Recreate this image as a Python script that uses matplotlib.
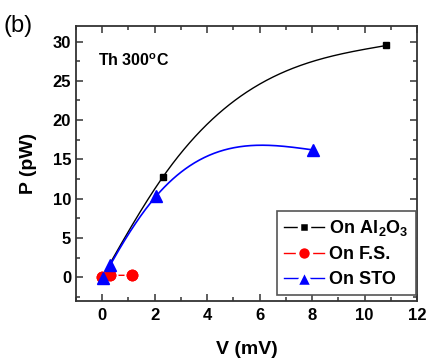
import numpy as np
import matplotlib
matplotlib.use("Agg")
import matplotlib.pyplot as plt
from matplotlib.ticker import MultipleLocator

# Data
al_v = [0.0, 2.3, 10.83]
al_p = [0.0, 12.7, 29.5]
fs_v = [0.0, 0.3, 1.15]
fs_p = [0.0, 0.25, 0.25]
sto_v = [0.04, 0.3, 2.05, 8.05]
sto_p = [-0.1, 1.5, 10.3, 16.2]

def natural_spline(x, y, n=300):
    x = np.asarray(x, float); y = np.asarray(y, float)
    k = len(x)
    h = np.diff(x)
    A = np.zeros((k, k)); r = np.zeros(k)
    A[0, 0] = 1; A[-1, -1] = 1
    for i in range(1, k - 1):
        A[i, i - 1] = h[i - 1]; A[i, i] = 2 * (h[i - 1] + h[i]); A[i, i + 1] = h[i]
        r[i] = 6 * ((y[i + 1] - y[i]) / h[i] - (y[i] - y[i - 1]) / h[i - 1])
    M = np.linalg.solve(A, r)
    xs = np.linspace(x[0], x[-1], n)
    idx = np.clip(np.searchsorted(x, xs) - 1, 0, k - 2)
    x0 = x[idx]; x1 = x[idx + 1]; hh = x1 - x0
    ys = (M[idx] * (x1 - xs) ** 3 / (6 * hh) + M[idx + 1] * (xs - x0) ** 3 / (6 * hh)
          + (y[idx] / hh - M[idx] * hh / 6) * (x1 - xs)
          + (y[idx + 1] / hh - M[idx + 1] * hh / 6) * (xs - x0))
    return xs, ys

plt.rcParams['font.family'] = ['Liberation Sans', 'DejaVu Sans']
plt.rcParams['mathtext.fontset'] = 'custom'
plt.rcParams['mathtext.rm'] = 'Liberation Sans'
plt.rcParams['mathtext.bf'] = 'Liberation Sans:bold'
fig = plt.figure(figsize=(4.29, 3.59), dpi=100)
ax = fig.add_axes([0.177, 0.162, 0.795, 0.766])

xs, ys = natural_spline(al_v, al_p)
ax.plot(xs, ys, color='black', lw=1)
xs, ys = natural_spline(sto_v, sto_p)
ax.plot(xs, ys, color='blue', lw=1.2)
ax.plot(fs_v, fs_p, color='red', lw=1)

ax.plot(al_v, al_p, 's', color='black', ms=4.5)
ax.plot(fs_v, fs_p, 'o', color='red', ms=10, mec='white', mew=1.5)
ax.plot(fs_v, fs_p, 'o', color='red', ms=8.5, mew=0)
ax.plot(sto_v, sto_p, '^', color='blue', ms=8)

# legend proxies
h1, = ax.plot([], [], '-s', color='black', ms=7, lw=1, mec='white', mew=2.5)
h2, = ax.plot([], [], '-o', color='red', ms=10, lw=1, mec='white', mew=2.5)
h3, = ax.plot([], [], '-^', color='blue', ms=11, lw=1, mec='white', mew=2.5)
leg = ax.legend([h1, h2, h3], [r'$\mathbf{On\ Al_2O_3}$', 'On F.S.', 'On STO'],
                loc='lower right', bbox_to_anchor=(0.997, 0.02), frameon=True,
                fancybox=False, edgecolor='#555555', framealpha=1,
                prop={'weight': 'bold', 'size': 13}, handlelength=2.2,
                handletextpad=0.3, borderpad=0.4, labelspacing=0.45,
                borderaxespad=0)
leg.get_frame().set_linewidth(1.2)

ax.set_xlim(-1, 12)
ax.set_ylim(-3, 32)
ax.xaxis.set_major_locator(MultipleLocator(2))
ax.xaxis.set_minor_locator(MultipleLocator(1))
ax.yaxis.set_major_locator(MultipleLocator(5))
ax.yaxis.set_minor_locator(MultipleLocator(2.5))
ax.tick_params(which='both', direction='in', top=True, right=True, width=1.1, color='#333333')
ax.tick_params(which='major', length=5, labelsize=12)
ax.tick_params(axis='x', which='major', pad=5)
ax.tick_params(which='minor', length=3)
for lab in ax.get_xticklabels() + ax.get_yticklabels():
    lab.set_fontweight('bold')
for s in ax.spines.values():
    s.set_linewidth(1.3)
    s.set_color('#333333')

ax.set_xlabel('V (mV)', fontsize=14, fontweight='bold', labelpad=13)
ax.set_ylabel('P (pW)', fontsize=14, fontweight='bold', labelpad=11)
ax.text(0.065, 0.873, r'Th 300$\mathbf{^o}$C', transform=ax.transAxes,
        fontsize=11.5, fontweight='bold', va='center')
fig.text(0.008, 0.91, '(b)', fontsize=17)

fig.savefig('out.png', dpi=100)
